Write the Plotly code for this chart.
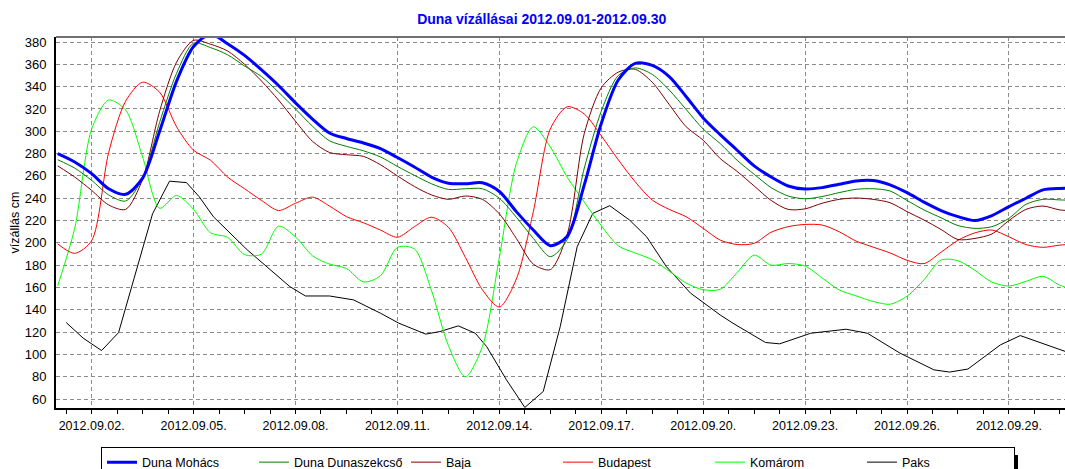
import plotly.graph_objects as go
import pandas as pd

TITLE = "Duna vízállásai 2012.09.01-2012.09.30"
Y_TITLE = "vízállás cm"

# sample times (every 12 hours from 2012-09-01 00:00)
TIMES = pd.date_range("2012-09-01 00:00", periods=61, freq="12h")

MOHACS = [280, 272.5, 262, 248.5, 243.5, 258, 300, 345, 376, 387,
          378.5, 368, 355, 341, 325.5, 311, 298.5, 293.5, 289.5, 284.5,
          276.5, 268, 259, 253.5, 253, 253.8, 246, 228, 211.5, 197.5,
          206, 252, 307, 346, 360.8, 359, 349, 331, 312, 297,
          283, 269, 259, 251, 248.3, 249.5, 252.5, 255.5, 255.8, 252,
          245, 236.5, 229, 223.5, 220, 224.5, 232.5, 240, 247.5, 248.8,
          248.8]

DUNASZEKCSO = [274.5, 267, 256, 243, 237.5, 258, 308, 352, 379, 375,
               368.6, 358.5, 349, 335, 320, 304.5, 291.5, 286.5, 282.5, 277,
               268.5, 260.5, 253, 247.9, 248.5, 248.5, 240, 223, 204, 187.6,
               203, 267, 318, 350, 356.8, 351, 337, 319.5, 302, 289,
               274, 261.5, 249.5, 242, 239.5, 241.5, 245, 248, 248.5, 246.5,
               238, 229.5, 222.5, 215.5, 213, 214.5, 222, 234.5, 239, 238.5,
               238]

BAJA = [269, 259, 247, 234, 230, 257, 318, 362, 381.5, 378,
        372, 360, 345, 328, 309, 291, 281, 279, 277.5, 270,
        260, 250.5, 243, 239, 242, 239, 226, 204, 181, 176,
        208, 298, 339, 353, 355.5, 344, 324, 304, 292, 275.6,
        264, 251, 238, 230, 230.5, 235.5, 239, 240.2, 239, 236,
        228, 220.5, 212, 203, 204, 208, 220, 230, 233, 229.5,
        228.8]

BUDAPEST = [199, 190.6, 202, 281, 327, 344, 335, 304, 283, 274,
            259, 248.5, 238, 229, 235.5, 241, 233, 223.5, 218, 211.5,
            205, 214.5, 223, 214, 187, 158, 142.5, 167.6, 228, 302,
            322, 315.5, 296, 274.5, 254.7, 238.4, 230, 223.4, 213, 202.5,
            198.5, 199.6, 209.5, 214.5, 216.5, 216, 210, 201.6, 196.2, 191,
            184.4, 181.4, 191.6, 202.3, 209, 211.5, 205.4, 198.5, 196, 198,
            199]

KOMAROM = [161.5, 213, 302, 328, 319, 277, 231, 242.5, 230, 209,
           205, 189.5, 190, 215, 205.4, 188.4, 181, 177, 165, 170.4,
           196, 194.5, 157.5, 108, 80, 107, 187, 271, 304, 286,
           258.8, 236.5, 215.4, 197.4, 190.9, 185, 174.6, 164, 158, 158.4,
           173.4, 189, 180, 181.5, 179.2, 168.6, 157.9, 152.5, 147.5, 145,
           152.2, 167, 184.6, 184, 175.3, 164.8, 161.3, 165.5, 170, 162,
           157]

# Paks: sparse readings (straight segments)
PAKS_TIMES = ["2012-09-01 06:00", "2012-09-01 18:00", "2012-09-02 07:00", "2012-09-02 19:00",
              "2012-09-03 19:00", "2012-09-04 07:00", "2012-09-04 19:00", "2012-09-05 04:00",
              "2012-09-05 14:00", "2012-09-06 14:00", "2012-09-07 20:00", "2012-09-08 07:00",
              "2012-09-09 00:00", "2012-09-09 17:00", "2012-09-10 12:00", "2012-09-11 01:00",
              "2012-09-11 20:00", "2012-09-12 06:00", "2012-09-12 19:00", "2012-09-13 07:00",
              "2012-09-13 15:00", "2012-09-14 05:00", "2012-09-14 18:00", "2012-09-15 07:00",
              "2012-09-15 19:00", "2012-09-16 07:00", "2012-09-16 18:00", "2012-09-17 06:00",
              "2012-09-17 20:00", "2012-09-18 08:00", "2012-09-18 22:00", "2012-09-19 15:00",
              "2012-09-20 12:00", "2012-09-20 21:00", "2012-09-21 20:00", "2012-09-22 06:00",
              "2012-09-23 04:00", "2012-09-24 05:00", "2012-09-24 20:00", "2012-09-25 19:00",
              "2012-09-26 19:00", "2012-09-27 06:00", "2012-09-27 19:00", "2012-09-28 18:00",
              "2012-09-29 08:00", "2012-09-30 16:00"]
PAKS = [128.6, 114.6, 103.5, 119.6,
        226, 255.3, 254, 241.3,
        223.4, 193.6, 160.8, 152.4,
        152.4, 148.9, 137, 128,
        118.2, 120.5, 125.6, 119,
        107.1, 77.3, 52.5, 66.8,
        125, 196.6, 226.4, 233.3,
        220.4, 205.5, 178.7, 155,
        135.4, 128, 110.7, 109.5,
        119, 122.6, 119, 101.2,
        86.2, 84.2, 86.9, 108.6,
        116.9, 102.6]

FONT = "Liberation Sans, Arial, sans-serif"

W, H = 1065, 469
ML, MR, MT, MB = 56, 0, 37, 61
PW, PH = W - ML - MR, H - MT - MB


def px_x(px):
    return (px - ML) / PW


def px_y(py):
    return (H - MB - py) / PH


fig = go.Figure()

# drawn bottom-up so that Mohács is on top; legend reversed to original order
fig.add_trace(go.Scatter(x=PAKS_TIMES, y=PAKS, name="Paks", mode="lines",
                         line=dict(color="#000000", width=1)))
fig.add_trace(go.Scatter(x=TIMES, y=KOMAROM, name="Komárom", mode="lines",
                         line=dict(color="#00ff00", width=1, shape="spline", smoothing=0.8)))
fig.add_trace(go.Scatter(x=TIMES, y=BUDAPEST, name="Budapest", mode="lines",
                         line=dict(color="#ff0000", width=1, shape="spline", smoothing=0.8)))
fig.add_trace(go.Scatter(x=TIMES, y=BAJA, name="Baja", mode="lines",
                         line=dict(color="#800000", width=1, shape="spline", smoothing=0.8)))
fig.add_trace(go.Scatter(x=TIMES, y=DUNASZEKCSO, name="Duna Dunaszekcső", mode="lines",
                         line=dict(color="#008000", width=1, shape="spline", smoothing=0.8)))
fig.add_trace(go.Scatter(x=TIMES, y=MOHACS, name="Duna Mohács", mode="lines",
                         line=dict(color="#0000ff", width=3, shape="spline", smoothing=0.8)))

fig.update_layout(
    width=W, height=H,
    margin=dict(l=ML, r=MR, t=MT, b=MB, autoexpand=False),
    paper_bgcolor="white", plot_bgcolor="white",
    font=dict(family=FONT, size=12, color="black"),
    title=dict(text=TITLE, x=541.7 / W, xref="container", xanchor="center",
               y=1 - 19 / H, yref="container", yanchor="middle",
               font=dict(family=FONT, size=14, color="#0000ff", weight="bold")),
    showlegend=True,
    legend=dict(orientation="h", x=px_x(101), xanchor="left",
                y=1 - 446.5 / H, yref="container", yanchor="top",
                bgcolor="white", bordercolor="black", borderwidth=1,
                font=dict(family=FONT, size=12.5, color="black"),
                traceorder="reversed", entrywidth=107, entrywidthmode="pixels"),
    xaxis=dict(type="date", automargin=False,
               range=["2012-08-31 22:48", "2012-09-30 15:36"],
               tick0="2012-09-02", dtick=3 * 86400000, tickformat="%Y.%m.%d.",
               showgrid=True, gridcolor="#8c8c8c", gridwidth=1, griddash="4px,3px",
               showline=True, linecolor="black", linewidth=2,
               ticks="outside", ticklen=4, tickcolor="black", tickwidth=1,
               ticklabelstandoff=1,
               minor=dict(dtick=18 * 3600000, tick0="2012-09-02", ticks="outside",
                          ticklen=4, tickcolor="black", showgrid=False),
               zeroline=False, tickfont=dict(size=12.5, color="black")),
    yaxis=dict(range=[52, 384.5], tick0=0, dtick=20, automargin=False,
               showgrid=True, gridcolor="#8c8c8c", gridwidth=1, griddash="4px,3px",
               showline=True, linecolor="black", linewidth=2,
               ticks="", zeroline=False, ticklabelstandoff=5,
               tickfont=dict(size=13, color="black"),
               title=dict(text=Y_TITLE, font=dict(size=12.5, color="black"), standoff=2)),
    shapes=[
        dict(type="line", xref="paper", yref="paper", x0=0, x1=1, y0=1, y1=1,
             line=dict(color="#707070", width=2)),
        # legend drop shadow
        dict(type="rect", xref="paper", yref="paper",
             x0=px_x(104), x1=px_x(1018), y0=px_y(455), y1=px_y(480),
             fillcolor="black", line=dict(width=0), layer="above"),
    ],
)

fig.write_html("out.html", config={"displayModeBar": False},
               post_script="document.body.style.margin='0px';")
